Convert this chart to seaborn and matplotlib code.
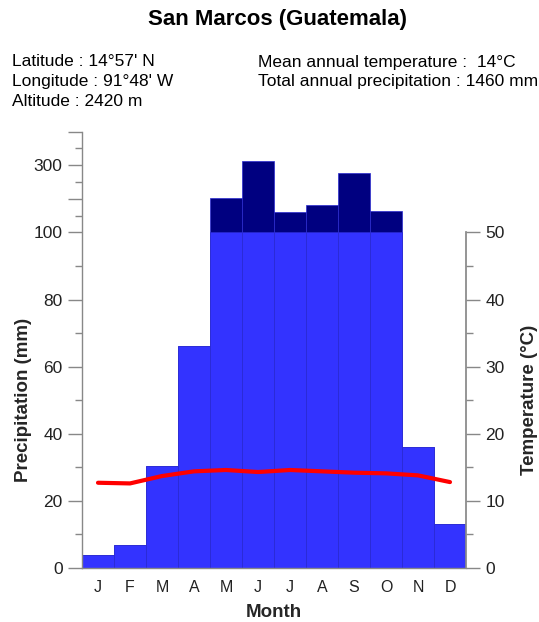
import numpy as np
import pandas as pd
import matplotlib
matplotlib.use("Agg")
import matplotlib.pyplot as plt
import seaborn as sns
from matplotlib.ticker import FixedLocator, FixedFormatter

months = ["J", "F", "M", "A", "M", "J", "J", "A", "S", "O", "N", "D"]
precip = [4, 7, 30.5, 66, 203, 312, 162, 183, 278, 165, 36, 13]
temp = [12.7, 12.6, 13.7, 14.4, 14.6, 14.3, 14.6, 14.4, 14.2, 14.1, 13.8, 12.8]

title = "San Marcos (Guatemala)"
info_left = ["Latitude : 14°57' N", "Longitude : 91°48' W", "Altitude : 2420 m"]
info_right = ["Mean annual temperature :  14°C", "Total annual precipitation : 1460 mm"]

sns.set_theme(style="white")
plt.rcParams['font.family'] = ['Liberation Sans', 'DejaVu Sans']

idx = list(range(12))
df = pd.DataFrame({"idx": idx, "precip": precip,
                   "wet": [min(p, 100) for p in precip], "temp": temp})

fig = plt.figure(figsize=(5.39, 6.22), dpi=100)
ax = fig.add_axes([82/539, 1-568/622, 384/539, (568-131.7)/622])


def fwd(y):
    y = np.asarray(y, dtype=float)
    return np.where(y <= 100, y, 100 + (y - 100) / 10.0)


def inv(y):
    y = np.asarray(y, dtype=float)
    return np.where(y <= 100, y, 100 + (y - 100) * 10.0)


ax.set_yscale('function', functions=(fwd, inv))

sns.barplot(data=df, x="idx", y="precip", color="#000080", saturation=1,
            width=1.0, edgecolor="#2a2ad0", linewidth=0.5, ax=ax)
sns.barplot(data=df, x="idx", y="wet", color="#3333FF", saturation=1,
            width=1.0, edgecolor="#2a2ad0", linewidth=0.5, ax=ax)

ax.set_xlim(-0.5, 11.5)
ax.set_ylim(0, 400)
ax.set_xticks(idx)
ax.set_xticklabels(months)
ax.tick_params(axis='x', length=0, pad=9, labelsize=11.5, colors='#222222')

major = [0, 20, 40, 60, 80, 100, 200, 300, 400]
labels = ["0", "20", "40", "60", "80", "100", "", "300", ""]
ax.yaxis.set_major_locator(FixedLocator(major))
ax.yaxis.set_major_formatter(FixedFormatter(labels))
ax.yaxis.set_minor_locator(FixedLocator([10, 30, 50, 70, 90, 150, 250, 350]))
ax.tick_params(axis='y', which='major', left=True, length=10, width=1,
               color='#888888', pad=4, labelsize=12.5, labelcolor='#222222')
ax.tick_params(axis='y', which='minor', left=True, length=5, width=1,
               color='#888888')

for s in ["top", "right"]:
    ax.spines[s].set_visible(False)
for s in ["left", "bottom"]:
    ax.spines[s].set_color('#888888')
    ax.spines[s].set_linewidth(1)

ax.set_xlabel("Month", fontsize=13.5, fontweight='bold', labelpad=6)
ax.set_ylabel("Precipitation (mm)", fontsize=13.5, fontweight='bold')
ax.yaxis.set_label_coords(-0.130, 0.385)

ax2 = ax.twinx()
sns.lineplot(data=df, x="idx", y="temp", color="#FF0000", linewidth=3,
             solid_capstyle='round', ax=ax2)
ax2.set_ylim(0, 65)
ax2.set_xlim(-0.5, 11.5)
ax2.yaxis.set_major_locator(FixedLocator([0, 10, 20, 30, 40, 50]))
ax2.yaxis.set_minor_locator(FixedLocator([5, 15, 25, 35, 45]))
ax2.tick_params(axis='y', which='major', right=True, length=10, width=1,
                color='#888888', pad=4, labelsize=12.5, labelcolor='#222222')
ax2.tick_params(axis='y', which='minor', right=True, length=5, width=1,
                color='#888888')
for s in ["top", "left", "bottom"]:
    ax2.spines[s].set_visible(False)
ax2.spines["right"].set_color('#888888')
ax2.spines["right"].set_bounds(0, 50)
ax2.set_ylabel("Temperature (°C)", fontsize=13.5, fontweight='bold')
ax2.yaxis.set_label_coords(1.143, 0.385)
ax2.set_xlabel("")

fig.text(277/539, 1-20/622, title, ha='center', va='center',
         fontsize=16, fontweight='bold', color='black')
for i, t in enumerate(info_left):
    fig.text(12/539, 1-(62+19.5*i)/622, t, ha='left', va='center',
             fontsize=12.5, color='black')
for i, t in enumerate(info_right):
    fig.text(258/539, 1-(62+19.5*i)/622, t, ha='left', va='center',
             fontsize=12.5, color='black')

fig.savefig("out.png", dpi=100)
